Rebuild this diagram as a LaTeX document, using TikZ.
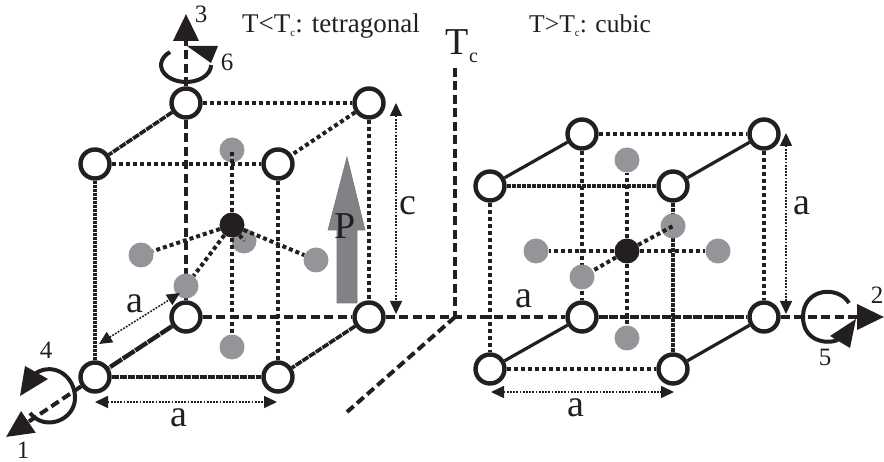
\documentclass[tikz,border=0pt]{standalone}
\usepackage{fontspec}
\setmainfont{Liberation Serif}
\usetikzlibrary{arrows.meta}
\pgfdeclarelayer{edgel}
\pgfdeclarelayer{grayl}
\pgfdeclarelayer{centrel}
\pgfsetlayers{edgel,grayl,centrel,main}
\definecolor{ink}{HTML}{231F20}
\definecolor{atomgray}{HTML}{939598}
\definecolor{arrowgray}{HTML}{808285}
\newcommand{\sz}[1]{\fontsize{#1}{#1}\selectfont}
\tikzset{
  corner/.style={circle,draw=ink,fill=white,line width=4.4pt,minimum size=29pt,inner sep=0pt},
  grayatom/.style={circle,fill=atomgray,minimum size=25pt,inner sep=0pt},
  blackatom/.style={circle,fill=ink,minimum size=25pt,inner sep=0pt},
  dotline/.style={draw=ink,line width=4pt,dash pattern=on 4pt off 3pt},
  dashline/.style={draw=ink,line width=4pt,dash pattern=on 9pt off 4.5pt},
  denseline/.style={draw=ink,line width=3.6pt,dash pattern=on 7pt off 1pt},
  solidline/.style={draw=ink,line width=3.2pt},
  dim/.style={draw=ink,line width=1.6pt,dash pattern=on 1.8pt off 1.4pt,{Triangle[length=13pt,width=12pt,fill=ink]}-{Triangle[length=13pt,width=12pt,fill=ink]}},
  bigtip/.style={-{Triangle[length=27pt,width=25pt,fill=ink]}},
  spin/.style={draw=ink,line width=4pt},
  head/.style={fill=ink,draw=none},
  lab/.style={anchor=base,inner sep=0pt,text=ink},
  biglab/.style={lab,font=\sz{38}},
  numlab/.style={lab,font=\sz{25}},
  title/.style={anchor=base west,inner sep=0pt,text=ink},
}
\begin{document}
\begin{tikzpicture}[x=1pt,y=-1pt]
\useasboundingbox (0,0) rectangle (884,462);
% left cube corners
\node[corner] (la) at (186,103) {};
\node[corner] (lb) at (369,103) {};
\node[corner] (lc) at (95,164) {};
\node[corner] (ld) at (278,164) {};
\node[corner] (le) at (186,317) {};
\node[corner] (lf) at (369,317) {};
\node[corner] (lg) at (95,377) {};
\node[corner] (lh) at (278,377) {};
% right cube corners
\node[corner] (ra) at (582,134) {};
\node[corner] (rb) at (764,134) {};
\node[corner] (rc) at (490,186) {};
\node[corner] (rd) at (673,186) {};
\node[corner] (re) at (582,317) {};
\node[corner] (rf) at (764,317) {};
\node[corner] (rg) at (490,369) {};
\node[corner] (rh) at (673,369) {};
% central atoms
\node[blackatom] (lm) at (232,225) {};
\node[blackatom] (rm) at (627,251) {};
% free ends
\coordinate (end1) at (6,437);
\coordinate (end2) at (884,317);
\coordinate (end3) at (186,14);
\coordinate (tctop) at (455,68);
\coordinate (tcmid) at (455,317);
\coordinate (tcend) at (347,412);
\begin{pgfonlayer}{grayl}
\node[grayatom] (lt) at (232,150) {};
\node[grayatom] (lu) at (232,347) {};
\node[grayatom] (lv) at (141,255) {};
\node[grayatom] (lw) at (316,260) {};
\node[grayatom] (lx) at (186,286) {};
\node[grayatom] (ly) at (244,241) {};
\node[grayatom] (rt) at (627,160) {};
\node[grayatom] (ru) at (627,338) {};
\node[grayatom] (rv) at (536,251) {};
\node[grayatom] (rw) at (718,251) {};
\node[grayatom] (rx) at (582,277) {};
\node[grayatom] (ry) at (673,226) {};
\end{pgfonlayer}
\begin{pgfonlayer}{edgel}
% left cube
\draw[dotline] (la) -- (lb);
\draw[dotline] (lc) -- (ld);
\draw[denseline] (la) -- (lc);
\draw[dotline] (lb) -- (ld);
\draw[denseline,dash pattern=on 3.4pt off .6pt] (lc) -- (lg);
\draw[dotline] (ld) -- (lh);
\draw[dashline] (la) -- (le);
\draw[dotline] (lb) -- (lf);
\draw[dashline] (le) -- (lf);
\draw[denseline] (lg) -- (lh);
\draw[denseline,line width=4.4pt,dash pattern=on 14pt off 1pt] (le) -- (lg);
\draw[denseline] (lf) -- (lh);
% right cube
\draw[dotline] (ra) -- (rb);
\draw[denseline,dash pattern=on 4pt off 1pt] (rc) -- (rd);
\draw[solidline] (ra) -- (rc);
\draw[solidline] (rb) -- (rd);
\draw[dotline] (rc) -- (rg);
\draw[denseline,dash pattern=on 4pt off 1pt] (rd) -- (rh);
\draw[dotline] (ra) -- (re);
\draw[dotline] (rb) -- (rf);
\draw[denseline,dash pattern=on 9pt off 1.5pt] (re) -- (rf);
\draw[dotline] (rg) -- (rh);
\draw[solidline] (re) -- (rg);
\draw[solidline] (rf) -- (rh);
% axes and Tc line
\draw[dashline,bigtip] (lg) -- (end1);
\draw[dashline] (lf) -- (re);
\draw[dashline,bigtip] (rf) -- (end2);
\draw[dashline,bigtip] (la) -- (end3);
\draw[dashline] (tctop) -- (tcmid);
\draw[dashline] (tcmid) -- (tcend);
\end{pgfonlayer}
\begin{pgfonlayer}{centrel}
\draw[dotline] (lm) -- (lt.center);
\draw[dotline] (lm) -- (lu);
\draw[dotline] (lm) -- (lv);
\draw[dotline] (lm) -- (lw);
\draw[dotline] (lm) -- (lx);
\draw[dotline] (lm) -- (ly.center);
\draw[dotline] (rm) -- (rt);
\draw[dotline] (rm) -- (ru);
\draw[dotline] (rm) -- (rv);
\draw[dotline] (rm) -- (rw);
\draw[dotline] (rm) -- (rx);
\draw[dotline] (rm) -- (ry.center);
\end{pgfonlayer}
% polarisation arrow
\draw[draw=ink!60!white,line width=.6pt,fill=arrowgray] (347,157) -- (365,230) -- (357,230) -- (357,303) -- (337,303) -- (337,230) -- (328,230) -- cycle;
% dimension arrows
\coordinate (cup) at (396,103);
\coordinate (cdn) at (396,314);
\coordinate (aup) at (786,133);
\coordinate (adn) at (786,314);
\coordinate (bl1) at (95,402);
\coordinate (bl2) at (277,402);
\coordinate (br1) at (491,392);
\coordinate (br2) at (674,392);
\coordinate (dg1) at (99,344);
\coordinate (dg2) at (180,293);
\draw[dim] (cup) -- (cdn);
\draw[dim] (aup) -- (adn);
\draw[dim] (bl1) -- (bl2);
\draw[dim] (br1) -- (br2);
\draw[dim] (dg1) -- (dg2);
% rotation markers
\draw[spin] (170,52) arc[start angle=230,end angle=0,x radius=25,y radius=17];
\fill[head] (187,46) -- (218,46) -- (211,63) -- cycle;
\draw[spin] (36,373) .. controls (54,362) and (75,376) .. (75,398) .. controls (75,420) and (45,432) .. (30,413);
\fill[head] (25,366) -- (48,379) -- (20,396) -- cycle;
\draw[spin] (849,303) .. controls (838,285) and (803,288) .. (803,317) .. controls (803,340) and (825,345) .. (838,340);
\fill[head] (856,319) -- (830,336) -- (850,348) -- cycle;
% labels
\node[title,font=\sz{27}] (t1) at (242,33) {T<T\raisebox{-4pt}{\sz{11}c}: tetragonal};
\node[title,font=\sz{25.6}] (t2) at (529,33) {T>T\raisebox{-4pt}{\sz{11}c}: cubic};
\node[lab,anchor=base west,font=\sz{38}] (tc) at (445,55) {T};
\node[lab,anchor=base west,font=\sz{20}] (tcsub) at (469,63) {c};
\node[biglab] (p) at (345,239) {P};
\node[biglab] (cl) at (408,215) {c};
\node[biglab] (a1) at (135,313) {a};
\node[biglab] (a2) at (179,426) {a};
\node[biglab] (a3) at (524,308) {a};
\node[biglab] (a4) at (576,417) {a};
\node[biglab] (a5) at (802,215) {a};
\node[numlab] (n1) at (23,458) {1};
\node[numlab] (n2) at (877,304) {2};
\node[numlab] (n3) at (201,23) {3};
\node[numlab] (n4) at (46,359) {4};
\node[numlab] (n5) at (825,366) {5};
\node[numlab] (n6) at (227,71) {6};
\end{tikzpicture}
\end{document}
